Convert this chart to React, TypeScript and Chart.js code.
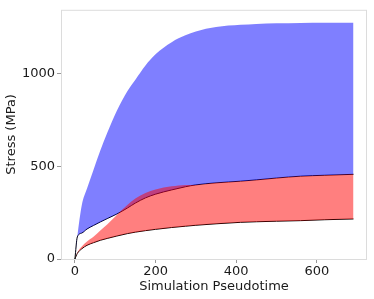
import React, { useEffect, useRef } from "react";
import { Chart, registerables } from "chart.js";

Chart.register(...registerables);

const pseudotime = [0, 6, 17, 30, 46, 63, 80, 104, 130, 150, 175, 200, 240, 274, 300, 350, 411, 450, 500, 560, 620, 691];
const upperBlue = [0, 120, 290, 380, 480, 585, 680, 800, 905, 968, 1045, 1105, 1170, 1207, 1228, 1252, 1264, 1269, 1272, 1274, 1275, 1275];
const middleLine = [0, 119, 140, 162, 181, 200, 218, 243, 275, 302, 330, 350, 373, 390, 400, 411, 420, 427, 437, 447, 452, 457];
const redTop = [0, 35, 68, 95, 120, 154, 186, 238, 292, 326, 356, 375, 392, 400, 400, 411, 420, 427, 437, 447, 452, 457];
const lowerLine = [0, 30, 55, 74, 88, 101, 111, 124, 137, 145, 153, 160, 170, 177, 182, 190, 198, 201, 204, 207, 212, 216];
const xTicks = [0, 200, 400, 600];
const yTicks = [0, 500, 1000];

const pts = (ys: number[]) => pseudotime.map((x, i) => ({ x, y: ys[i] }));

const framePlugin = {
  id: "frame",
  beforeDatasetsDraw(chart: any) {
    const { ctx, chartArea } = chart;
    ctx.save();
    ctx.strokeStyle = "#dcdcdc";
    ctx.lineWidth = 1;
    ctx.strokeRect(chartArea.left + 0.5, chartArea.top + 0.5, chartArea.right - chartArea.left - 1, chartArea.bottom - chartArea.top);
    ctx.restore();
  },
};

export default function App() {
  const ref = useRef<HTMLCanvasElement | null>(null);
  useEffect(() => {
    if (!ref.current) return;
    const font = { family: "DejaVu Sans", size: 13 };
    const chart = new Chart(ref.current, {
      type: "line",
      data: {
        datasets: [
          {
            data: pts(redTop),
            borderWidth: 0,
            borderColor: "rgba(0,0,0,0)",
            backgroundColor: "rgba(255,0,0,0.5)",
            fill: 1,
            pointRadius: 0,
            cubicInterpolationMode: "monotone",
          },
          {
            data: pts(lowerLine),
            borderWidth: 1,
            borderColor: "#000",
            fill: false,
            pointRadius: 0,
            cubicInterpolationMode: "monotone",
          },
          {
            data: pts(upperBlue),
            borderWidth: 0,
            borderColor: "rgba(0,0,0,0)",
            backgroundColor: "rgba(0,0,255,0.5)",
            fill: 3,
            pointRadius: 0,
            cubicInterpolationMode: "monotone",
          },
          {
            data: pts(middleLine),
            borderWidth: 1,
            borderColor: "#000",
            fill: false,
            pointRadius: 0,
            cubicInterpolationMode: "monotone",
          },
        ],
      } as any,
      options: {
        animation: false,
        responsive: false,
        events: [],
        layout: { padding: { top: 6, right: 7, left: 0, bottom: 0 } },
        plugins: { legend: { display: false }, tooltip: { enabled: false } },
        scales: {
          x: {
            type: "linear",
            min: -34.5,
            max: 724.5,
            afterFit: (s: any) => { s.height = 40; },
            afterBuildTicks: (s: any) => { s.ticks = xTicks.map((v) => ({ value: v })); },
            grid: { drawOnChartArea: false, drawTicks: true, tickLength: 4, color: "#999" },
            border: { display: false },
            ticks: { font, color: "#1a1a1a", padding: 1, maxRotation: 0, callback: (v: any) => String(v) },
            title: { display: true, text: "Simulation Pseudotime", font, color: "#1a1a1a", padding: { top: 0, bottom: 5 } },
          },
          y: {
            type: "linear",
            min: 0,
            max: 1345,
            afterFit: (s: any) => { s.width = 61; },
            afterBuildTicks: (s: any) => { s.ticks = yTicks.map((v) => ({ value: v })); },
            grid: { drawOnChartArea: false, drawTicks: true, tickLength: 4, color: "#999" },
            border: { display: false },
            ticks: { font, color: "#1a1a1a", padding: 2, callback: (v: any) => String(v) },
            title: { display: true, text: "Stress (MPa)", font, color: "#1a1a1a", padding: { top: 4, bottom: 0 } },
          },
        },
      } as any,
      plugins: [framePlugin],
    });
    return () => chart.destroy();
  }, []);
  return (
    <div style={{ position: "fixed", left: 0, top: 0, width: 374, height: 299, background: "#fff" }}>
      <canvas ref={ref} width={374} height={299} style={{ display: "block", width: 374, height: 299 }} />
    </div>
  );
}
